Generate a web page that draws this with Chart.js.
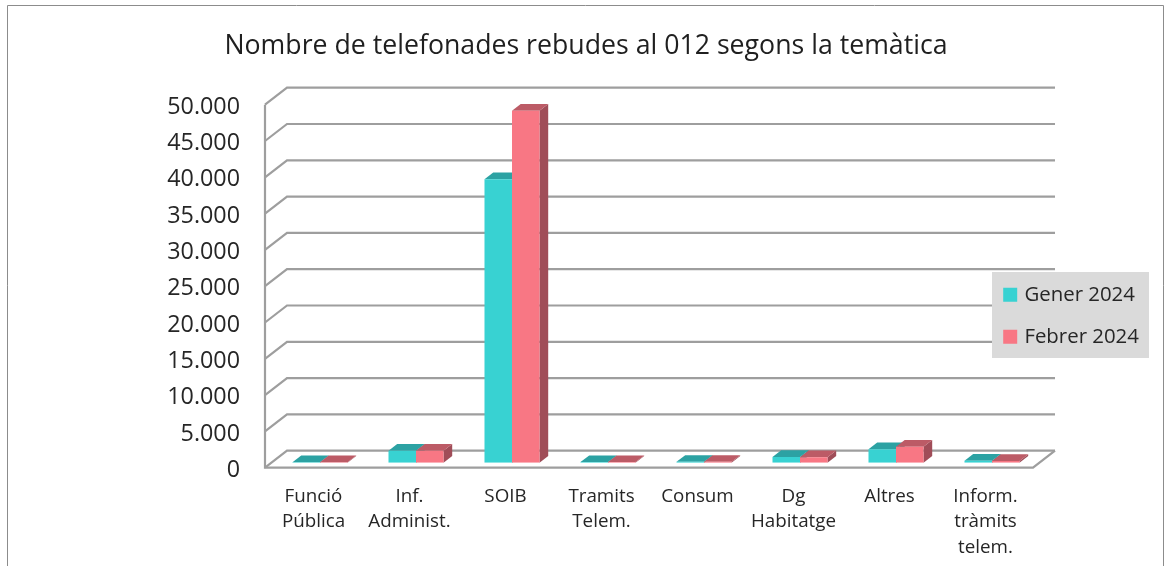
<!DOCTYPE html>
<html><head><meta charset="utf-8">
<style>html,body{margin:0;padding:0;background:#fff;overflow:hidden}#w{width:1168px;height:566px;position:relative}</style>
<script src="https://cdn.jsdelivr.net/npm/chart.js@4/dist/chart.umd.min.js"></script>
</head><body><div id="w"><canvas id="c" width="1168" height="566"></canvas></div>
<script>
const chartTitle = 'Nombre de telefonades rebudes al 012 segons la temàtica';
const categories = [['Funció','Pública'],['Inf.','Administ.'],'SOIB',['Tramits','Telem.'],'Consum',['Dg','Habitatge'],'Altres',['Inform.','tràmits','telem.']];
const gener2024 = [60, 1650, 39050, 80, 120, 800, 1850, 270];
const febrer2024 = [60, 1650, 48480, 80, 120, 750, 2200, 250];
const seriesNames = ['Gener 2024', 'Febrer 2024'];
const fills = ['#38D2D2', '#F87784'];
const tops = ['#2CA2A3', '#BC5B66'];
const sides = ['#258A8B', '#A04D58'];
const FONT = '"Open Sans"';

const frame3d = {
  id: 'frame3d',
  beforeDraw(chart) {
    const {ctx, scales: {x, y}, chartArea: a} = chart, L = chart.legend, T = chart.titleBlock;
    L.left = 984.6; L.top = 262.95; L.right = 1149; L.bottom = 420;
    T.left = 0; T.right = 1172;
    ctx.save();
    ctx.fillStyle = '#fff'; ctx.fillRect(0, 0, chart.width, chart.height);
    // outer frame
    ctx.strokeStyle = '#8c8c8c'; ctx.lineWidth = 1;
    ctx.beginPath(); ctx.moveTo(7.5, 566); ctx.lineTo(7.5, 5.5); ctx.lineTo(1163.5, 5.5); ctx.lineTo(1163.5, 566); ctx.stroke();
    // 3D walls from the value scale
    const fx = a.left - 7, fr = a.right - 7, bx = a.left + 15, br = a.right + 15;
    ctx.strokeStyle = '#9e9e9e'; ctx.lineWidth = 2.2;
    y.ticks.forEach(t => {
      const p = y.getPixelForValue(t.value);
      ctx.beginPath(); ctx.moveTo(fx, p + 5); ctx.lineTo(bx, p - 12); ctx.lineTo(br, p - 12); ctx.stroke();
    });
    const y0 = y.getPixelForValue(0), yM = y.getPixelForValue(y.max);
    ctx.beginPath(); ctx.moveTo(fx, yM + 5); ctx.lineTo(fx, y0 + 5); ctx.lineTo(fr, y0 + 5); ctx.lineTo(br, y0 - 12); ctx.stroke();
    // bar depth
    const dx = 8.7, dy = 6.7;
    chart.data.datasets.forEach((d, i) => {
      chart.getDatasetMeta(i).data.forEach(b => {
        const l = b.x - b.width / 2, r = b.x + b.width / 2;
        ctx.fillStyle = sides[i];
        ctx.beginPath(); ctx.moveTo(r, b.y); ctx.lineTo(r + dx, b.y - dy); ctx.lineTo(r + dx, b.base - dy); ctx.lineTo(r, b.base); ctx.closePath(); ctx.fill();
        ctx.fillStyle = tops[i];
        ctx.beginPath(); ctx.moveTo(l, b.y); ctx.lineTo(l + dx, b.y - dy); ctx.lineTo(r + dx, b.y - dy); ctx.lineTo(r, b.y); ctx.closePath(); ctx.fill();
      });
    });
    // legend panel
    ctx.fillStyle = '#DADADA'; ctx.fillRect(992, 272, 157, 86);
    ctx.restore();
  }
};

new Chart(document.getElementById('c'), {
  type: 'bar',
  data: {
    labels: categories,
    datasets: [
      {label: seriesNames[0], data: gener2024, backgroundColor: fills[0], borderWidth: 0},
      {label: seriesNames[1], data: febrer2024, backgroundColor: fills[1], borderWidth: 0}
    ]
  },
  options: {
    responsive: false, animation: false,
    layout: {padding: {left: 0, right: 128, top: 0, bottom: 0}},
    datasets: {bar: {categoryPercentage: 0.573, barPercentage: 1}},
    plugins: {
      tooltip: {enabled: false},
      title: {display: true, text: chartTitle, color: '#1f1f1f', font: {family: FONT, size: 26.7, weight: 'normal', lineHeight: 1.2}, padding: {top: 30, bottom: 37.66}},
      legend: {
        position: 'chartArea', align: 'start',
        labels: {boxWidth: 8, boxHeight: 8, padding: 21.6, color: '#262626', font: {family: FONT, size: 20.4},
          generateLabels: chart => Chart.defaults.plugins.legend.labels.generateLabels(chart).map((it, i) => ({...it, strokeStyle: fills[i], lineWidth: 6}))}
      }
    },
    scales: {
      x: {
        grid: {display: false, drawTicks: false}, border: {display: false},
        afterFit(s) { s.height = 103.3; },
        ticks: {autoSkip: false, maxRotation: 0, minRotation: 0, labelOffset: -6.5, padding: 21, color: '#262626', font: {family: FONT, size: 18.8, lineHeight: 1.356}}
      },
      y: {
        min: 0, max: 50000,
        grid: {display: false, drawTicks: false}, border: {display: false},
        afterFit(s) { s.width = 272; },
        ticks: {stepSize: 5000, padding: 32, labelOffset: 7.5, color: '#262626', font: {family: FONT, size: 23.3},
          callback: v => String(v).replace(/\B(?=(\d{3})+$)/g, '.')}
      }
    }
  },
  plugins: [frame3d]
});
</script></body></html>
